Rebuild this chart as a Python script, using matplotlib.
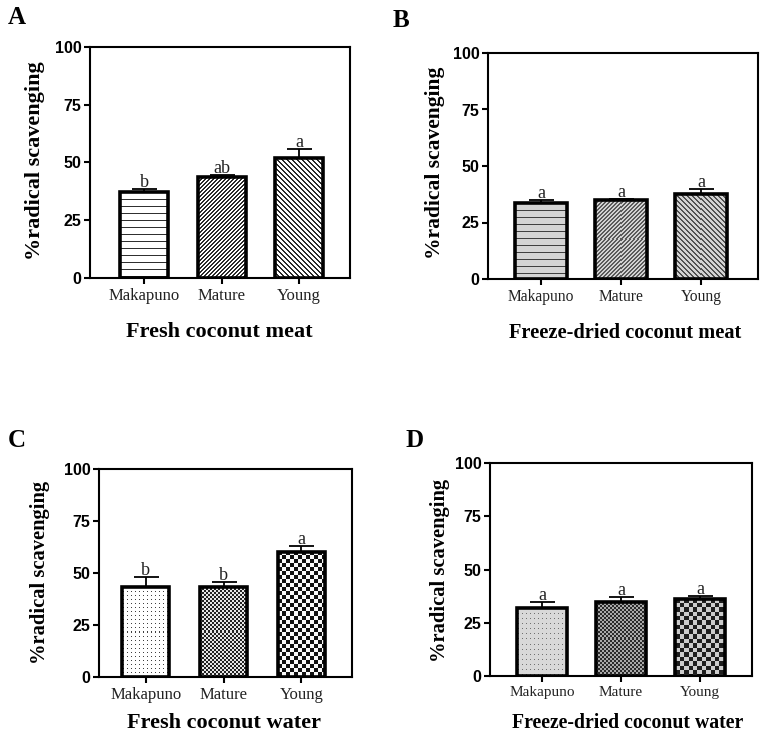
import numpy as np
import matplotlib
matplotlib.use('Agg')
import matplotlib.pyplot as plt
from matplotlib.colors import to_rgb

# ---------------- data ----------------
categories = ['Makapuno', 'Mature', 'Young']
yticks = [0, 25, 50, 75, 100]
ylabel_text = '%radical scavenging'
panel_letters = ['A', 'B', 'C', 'D']
panel_titles = ['Fresh coconut meat', 'Freeze-dried coconut meat',
                'Fresh coconut water', 'Freeze-dried coconut water']

fresh_meat_mean = [37.2, 43.7, 51.9]
fresh_meat_err = [1.3, 0.8, 3.9]
fresh_meat_sig = ['b', 'ab', 'a']

dried_meat_mean = [33.6, 35.0, 37.6]
dried_meat_err = [1.4, 0.6, 2.4]
dried_meat_sig = ['a', 'a', 'a']

fresh_water_mean = [43.3, 43.3, 60.1]
fresh_water_err = [4.7, 2.4, 2.9]
fresh_water_sig = ['b', 'b', 'a']

dried_water_mean = [32.0, 34.9, 36.2]
dried_water_err = [2.9, 2.1, 1.4]
dried_water_sig = ['a', 'a', 'a']

# ---------------- styling / layout ----------------
W, H, DPI = 761, 734, 100
SERIF = ['Liberation Serif', 'DejaVu Serif']
SANS = ['Liberation Sans', 'DejaVu Sans']


def texture(spec, h, w):
    kind, bg, fg = spec[0], np.array(to_rgb(spec[1])), np.array(to_rgb(spec[2]))
    i, j = np.mgrid[0:h, 0:w]
    if kind == 'h':
        p = spec[3]
        mask = (i % p) == 0
    elif kind == 'ne':
        p, t = spec[3], spec[4]
        mask = ((i + j) % p) < t
    elif kind == 'nw':
        p, t = spec[3], spec[4]
        mask = ((j - i) % p) < t
    elif kind == 'dots':
        pi, pj = spec[3], spec[4]
        mask = ((i % pi) == 1) & ((j % pj) == 1)
    else:  # checker
        c = spec[3]
        mask = ((np.floor(i / c) + np.floor(j / c)) % 2) == 0
    return np.where(mask[..., None], fg, bg)


panels = [
    dict(mean=fresh_meat_mean, err=fresh_meat_err, sig=fresh_meat_sig,
         rect=(90, 47, 350, 278), xlim=(-0.70, 2.66), bw=0.62,
         ylab=(35, 161, 16), title=(219, 337, 16), letter=(8, 24), cat=12,
         tex=[('h', '#ffffff', '#303030', 7),
              ('ne', '#ffffff', '#2a2a2a', 4, 2),
              ('nw', '#ffffff', '#2a2a2a', 5, 2)]),
    dict(mean=dried_meat_mean, err=dried_meat_err, sig=dried_meat_sig,
         rect=(488, 53, 758, 279), xlim=(-0.66, 2.71), bw=0.64,
         ylab=(435, 163, 15.5), title=(625, 338, 14.7), letter=(393, 27), cat=11.2,
         tex=[('h', '#d4d4d4', '#404040', 7),
              ('ne', '#d2d2d2', '#5a5a5a', 4, 2),
              ('nw', '#d2d2d2', '#505050', 5, 2)]),
    dict(mean=fresh_water_mean, err=fresh_water_err, sig=fresh_water_sig,
         rect=(99, 469, 352, 677), xlim=(-0.60, 2.65), bw=0.6,
         ylab=(40, 572, 14.8), title=(224, 728, 16), letter=(8, 447), cat=12,
         tex=[('dots', '#ffffff', '#404040', 4, 4),
              ('checker', '#e6e6e6', '#222222', 2),
              ('checker', '#fafafa', '#111111', 4)]),
    dict(mean=dried_water_mean, err=dried_water_err, sig=dried_water_sig,
         rect=(490, 463, 752, 676), xlim=(-0.66, 2.66), bw=0.63,
         ylab=(440, 570, 14.8), title=(628, 728, 14.2), letter=(405, 447), cat=11,
         tex=[('dots', '#d8d8d8', '#707070', 5, 4),
              ('checker', '#a8a8a8', '#2a2a2a', 2),
              ('checker', '#cccccc', '#1e1e1e', 4.4)]),
]

fig = plt.figure(figsize=(W / DPI, H / DPI), dpi=DPI)
x = np.arange(len(categories))

for idx, p in enumerate(panels):
    l, t, r, b = p['rect']
    ax = fig.add_axes([l / W, 1 - b / H, (r - l) / W, (b - t) / H])
    ax.set_xlim(*p['xlim'])
    ax.set_ylim(0, 100)

    bars = ax.bar(x, p['mean'], width=p['bw'], facecolor='none',
                  edgecolor='black', linewidth=2.6, zorder=3)
    ax.errorbar(x, p['mean'], yerr=[np.zeros(len(x)), p['err']], fmt='none',
                ecolor='black', elinewidth=1.3, capsize=9, capthick=1.3, zorder=2.5)

    for bar, spec in zip(bars, p['tex']):
        x0, y0 = bar.get_x(), bar.get_y()
        w, h = bar.get_width(), bar.get_height()
        (px0, py0), (px1, py1) = ax.transData.transform([(x0, y0), (x0 + w, y0 + h)])
        wpx = max(1, int(round(abs(px1 - px0))))
        hpx = max(1, int(round(abs(py1 - py0))))
        img = texture(spec, hpx, wpx)
        im = ax.imshow(img, extent=(x0, x0 + w, y0, y0 + h), origin='upper',
                       interpolation='nearest', aspect='auto', zorder=2)
        im.set_clip_path(bar)

    for xi, m, e, s in zip(x, p['mean'], p['err'], p['sig']):
        ax.annotate(s, (xi, m + e), xytext=(0, -1.5), textcoords='offset points',
                    ha='center', va='bottom', fontsize=13, family=SERIF,
                    color='#222222')

    ax.set_xlim(*p['xlim'])
    ax.set_ylim(0, 100)
    ax.set_aspect('auto')
    ax.set_xticks(x)
    ax.set_xticklabels(categories, family=SERIF, fontsize=p['cat'], color='#222222')
    ax.set_yticks(yticks)
    ax.set_yticklabels([str(v) for v in yticks], family=SANS, fontweight='bold',
                       fontsize=11.5)
    ax.tick_params(axis='y', direction='out', length=4.5, width=1.5, pad=1.5)
    ax.tick_params(axis='x', direction='out', length=4.5, width=1.5, pad=2.5)
    for sp in ax.spines.values():
        sp.set_linewidth(1.5)

    yx, yy, ys = p['ylab']
    fig.text(yx / W, 1 - yy / H, ylabel_text, rotation=90, ha='center', va='center',
             fontsize=ys, fontweight='bold', family=SERIF)
    tx, ty, ts = p['title']
    fig.text(tx / W, 1 - ty / H, panel_titles[idx], ha='center', va='baseline',
             fontsize=ts, fontweight='bold', family=SERIF)
    lx, ly = p['letter']
    fig.text(lx / W, 1 - ly / H, panel_letters[idx], ha='left', va='baseline',
             fontsize=18, fontweight='bold', family=SERIF)

fig.savefig('out.png', dpi=DPI)
